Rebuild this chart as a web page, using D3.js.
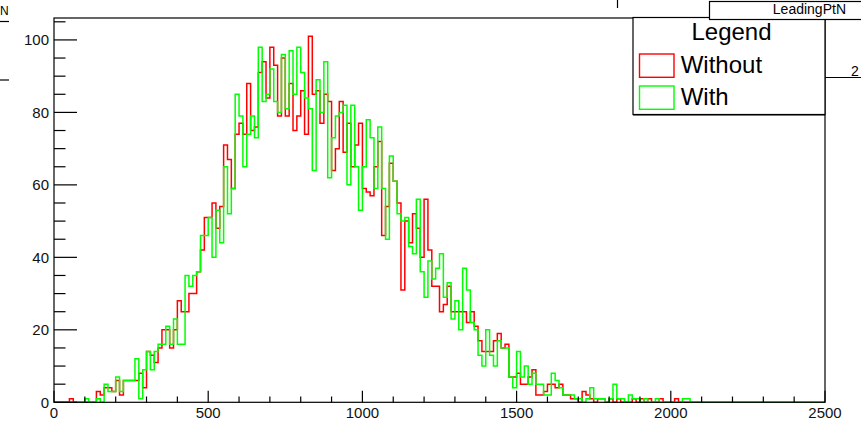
<!DOCTYPE html>
<html>
<head>
<meta charset="utf-8">
<script src="https://cdn.jsdelivr.net/npm/d3@7"></script>
<style>
  html, body { margin: 0; padding: 0; background: #fff; }
  svg { display: block; font-family: "Liberation Sans", Arial, sans-serif; }
</style>
</head>
<body>
<div id="chart"></div>
<script>
// Histogram binning (ROOT TH1: 200 bins over 0..2500)
const X_MIN = 0;
const X_MAX = 2500;
const N_BINS = 200;

const xTicks = [0, 500, 1000, 1500, 2000, 2500];
const yTicks = [0, 20, 40, 60, 80, 100];

const legendLabels = ["Without", "With"];
const seriesColors = ["#ff0000", "#00ff00"];

// bin contents (bins 0..199)
const without = [
  0, 0, 0, 0, 1, 0, 0, 0, 0, 0,
  0, 3, 2, 4, 4, 3, 6, 2, 6, 6,
  6, 6, 8, 4, 14, 13, 11, 15, 20, 20,
  15, 20, 28, 25, 25, 30, 30, 36, 42, 51,
  51, 55, 48, 54, 71, 67, 59, 74, 77, 74,
  88, 75, 76, 91, 94, 84, 98, 93, 79, 95,
  79, 88, 75, 79, 86, 74, 101, 85, 86, 77,
  85, 83, 64, 70, 83, 69, 77, 65, 71, 77,
  59, 58, 57, 65, 72, 46, 54, 66, 61, 55,
  31, 50, 44, 52, 48, 40, 56, 42, 32, 32,
  25, 27, 32, 25, 25, 25, 25, 22, 25, 21,
  17, 14, 14, 14, 17, 19, 15, 16, 7, 7,
  8, 5, 5, 7, 9, 2, 2, 3, 5, 5,
  4, 5, 2, 2, 1, 1, 0, 3, 2, 1,
  0, 1, 1, 0, 1, 0, 1, 0, 0, 0,
  1, 0, 1, 0, 1, 0, 0, 1, 0, 0,
  0, 1, 0, 0, 0, 0, 0, 0, 0, 0,
  0, 0, 0, 0, 0, 0, 0, 0, 0, 0,
  0, 0, 0, 0, 0, 0, 0, 0, 0, 0,
  0, 0, 0, 0, 0, 0, 0, 0, 0, 0,
];

const withCut = [
  0, 0, 0, 0, 0, 0, 0, 0, 1, 0,
  0, 1, 0, 5, 3, 3, 7, 3, 6, 6,
  6, 12, 1, 9, 14, 9, 14, 16, 16, 21,
  16, 23, 16, 16, 35, 32, 35, 36, 46, 46,
  51, 40, 53, 44, 65, 52, 59, 85, 79, 65,
  74, 79, 73, 98, 83, 85, 92, 83, 80, 96,
  81, 97, 85, 98, 91, 84, 81, 64, 89, 80,
  94, 62, 73, 79, 80, 82, 60, 82, 65, 53,
  65, 78, 73, 59, 76, 59, 45, 68, 61, 52,
  50, 51, 43, 41, 56, 36, 29, 39, 34, 37,
  41, 29, 33, 23, 28, 20, 37, 31, 22, 20,
  13, 10, 20, 13, 10, 17, 15, 15, 7, 4,
  14, 7, 10, 5, 8, 5, 5, 2, 2, 8,
  6, 4, 2, 2, 2, 1, 1, 0, 1, 4,
  1, 1, 1, 0, 1, 5, 1, 1, 0, 2,
  1, 1, 0, 1, 0, 0, 1, 0, 0, 0,
  0, 0, 0, 1, 1, 0, 0, 0, 0, 0,
  0, 0, 0, 0, 0, 0, 0, 0, 0, 0,
  0, 0, 0, 0, 0, 0, 0, 0, 0, 0,
  0, 0, 0, 0, 0, 0, 0, 0, 0, 0,
];

const W = 861;
const H = 421;
const frame = { left: 54, right: 825, top: 18, bottom: 402.3 };

const svg = d3.select("#chart").append("svg")
  .attr("width", W)
  .attr("height", H)
  .attr("viewBox", `0 0 ${W} ${H}`);

const yMax = 1.05 * d3.max([...without, ...withCut]);

const x = d3.scaleLinear().domain([X_MIN, X_MAX]).range([frame.left, frame.right]);
const y = d3.scaleLinear().domain([0, yMax]).range([frame.bottom, frame.top]);

const binWidth = (X_MAX - X_MIN) / N_BINS;

function stepPoints(values) {
  const pts = [[X_MIN, 0]];
  values.forEach((v, i) => {
    const lo = X_MIN + i * binWidth;
    pts.push([lo, v], [lo + binWidth, v]);
  });
  pts.push([X_MAX, 0]);
  return pts;
}

const line = d3.line().x((d) => x(d[0])).y((d) => y(d[1]));

// red first, green drawn over it (as in ROOT "same")
[without, withCut].forEach((vals, k) => {
  svg.append("path")
    .attr("d", line(stepPoints(vals)))
    .attr("fill", "none")
    .attr("stroke", seriesColors[k])
    .attr("stroke-width", 1.5);
});

// frame
svg.append("rect")
  .attr("x", frame.left)
  .attr("y", frame.top)
  .attr("width", frame.right - frame.left)
  .attr("height", frame.bottom - frame.top)
  .attr("fill", "none")
  .attr("stroke", "#000")
  .attr("stroke-width", 1.2);

// y axis: ticks point into the frame
const yAxis = svg.append("g").attr("stroke", "#000").attr("stroke-width", 1.2);
const yMinor = d3.range(0, yMax, 5);
yAxis.selectAll("line.minor")
  .data(yMinor)
  .join("line")
  .attr("x1", frame.left)
  .attr("x2", (d) => frame.left + (d % 20 === 0 ? 23 : 11.5))
  .attr("y1", (d) => y(d))
  .attr("y2", (d) => y(d));

svg.append("g").selectAll("text")
  .data(yTicks)
  .join("text")
  .attr("x", 49)
  .attr("y", (d) => y(d) + 5.4)
  .attr("text-anchor", "end")
  .attr("font-size", 15)
  .attr("fill", "#111")
  .text((d) => d);

// x axis: ticks point up
const xMinor = d3.range(X_MIN, X_MAX + 1, 100);
svg.append("g").attr("stroke", "#000").attr("stroke-width", 1.2)
  .selectAll("line")
  .data(xMinor)
  .join("line")
  .attr("x1", (d) => x(d))
  .attr("x2", (d) => x(d))
  .attr("y1", frame.bottom)
  .attr("y2", (d) => frame.bottom - (d % 500 === 0 ? 11.5 : 5.8));

svg.append("g").selectAll("text")
  .data(xTicks)
  .join("text")
  .attr("x", (d) => x(d))
  .attr("y", 418.4)
  .attr("text-anchor", "middle")
  .attr("font-size", 15)
  .attr("fill", "#111")
  .text((d) => d);

// legend
const lg = svg.append("g");
lg.append("rect")
  .attr("x", 633)
  .attr("y", 17.5)
  .attr("width", 825 - 633)
  .attr("height", 114.5 - 17.5)
  .attr("fill", "#fff")
  .attr("stroke", "#000")
  .attr("stroke-width", 1.2);
lg.append("line")
  .attr("x1", 633).attr("x2", 825)
  .attr("y1", 115).attr("y2", 115)
  .attr("stroke", "#000").attr("stroke-width", 1);
lg.append("text")
  .attr("x", 731.5)
  .attr("y", 40)
  .attr("text-anchor", "middle")
  .attr("font-size", 24)
  .text("Legend");
legendLabels.forEach((lab, k) => {
  const top = 54 + k * 32;
  lg.append("rect")
    .attr("x", 639.5)
    .attr("y", top)
    .attr("width", 34.5)
    .attr("height", 23.3)
    .attr("fill", "#fff")
    .attr("stroke", seriesColors[k])
    .attr("stroke-width", 1.4);
  lg.append("text")
    .attr("x", 680.7)
    .attr("y", top + 18.7)
    .attr("font-size", 24)
    .text(lab);
});

// bits of the neighbouring pads that overlap this one
const deco = svg.append("g").attr("stroke", "#000").attr("stroke-width", 1.2);
deco.append("rect")
  .attr("x", 709.5).attr("y", 1.5)
  .attr("width", 170).attr("height", 18)
  .attr("fill", "#fff");
svg.append("text")
  .attr("x", 846).attr("y", 14)
  .attr("text-anchor", "end")
  .attr("font-size", 14)
  .text("LeadingPtN");
deco.append("line").attr("x1", 825).attr("x2", 861).attr("y1", 77.5).attr("y2", 77.5);
svg.append("text").attr("x", 851).attr("y", 76).attr("font-size", 14).text("2");
deco.append("line").attr("x1", 617.5).attr("x2", 617.5).attr("y1", 0).attr("y2", 8);
deco.append("line").attr("x1", 0).attr("x2", 9).attr("y1", 21.5).attr("y2", 21.5);
deco.append("line").attr("x1", 0).attr("x2", 9).attr("y1", 80).attr("y2", 80);
svg.append("text").attr("x", 0).attr("y", 15).attr("font-size", 12).text("N");
</script>
</body>
</html>
